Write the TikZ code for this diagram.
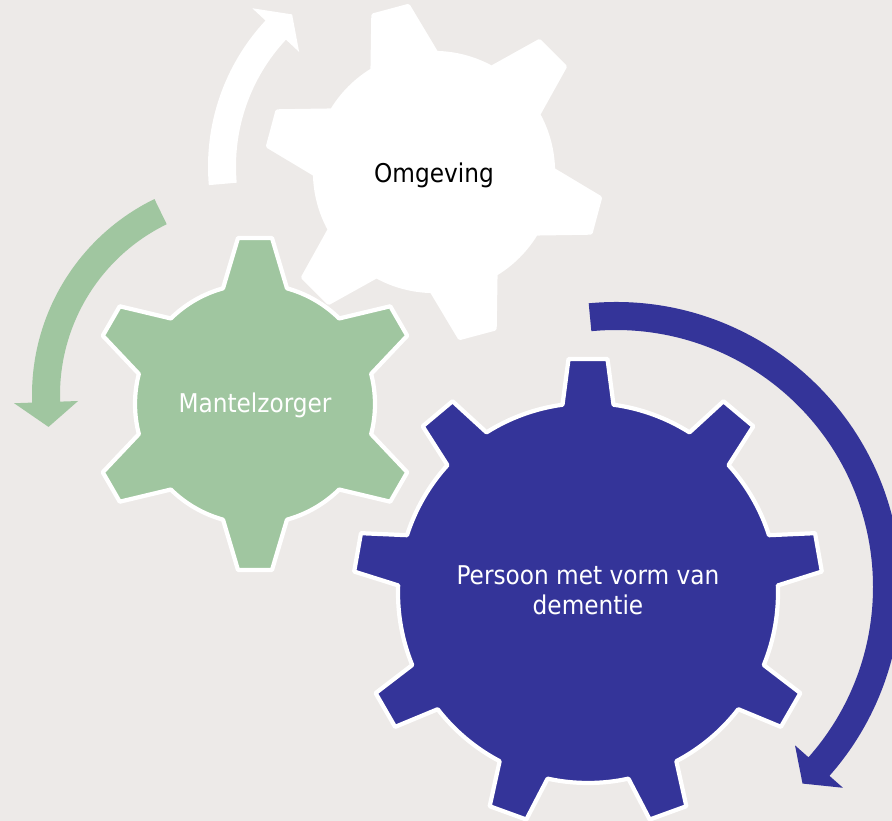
\documentclass[tikz,border=0pt]{standalone}
\usepackage{fontspec}
\setmainfont{DejaVu Sans Condensed}
\usetikzlibrary{calc}
\definecolor{achtergrond}{RGB}{237,234,232}
\definecolor{zorggroen}{RGB}{160,198,160}
\definecolor{dementieblauw}{RGB}{52,52,153}
\tikzset{gearline/.style={draw=white, line width=2.4pt, line join=round},
  geartext/.style={font=\fontsize{14.7}{17}\selectfont, align=center}}
% #1 centre, #2 teeth, #3 first tooth angle, #4 root radius, #5 tip radius,
% #6 half width at root, #7 half width at tip, #8 style
\newcommand{\gear}[8]{%
  \pgfmathsetmacro{\gstep}{360/#2}%
  \pgfmathtruncatemacro{\glast}{#2-1}%
  \pgfmathsetmacro{\gdb}{asin(#6/#4)}%
  \pgfmathsetmacro{\gdt}{atan(#7/#5)}%
  \pgfmathsetmacro{\grt}{veclen(#5,#7)}%
  \path[#8] ($(#1)+(#3-\gdb:#4)$)
    \foreach \k [evaluate=\k as \ta using #3+\k*\gstep] in {0,...,\glast} {
      -- ($(#1)+(\ta-\gdt:\grt)$) -- ($(#1)+(\ta+\gdt:\grt)$) -- ($(#1)+(\ta+\gdb:#4)$)
      arc[start angle=\ta+\gdb, end angle=\ta+\gstep-\gdb, radius=#4]
    } -- cycle;}
% #1 centre, #2 inner radius, #3 outer radius, #4 tail angle, #5 head angle, #6 tip angle, #7 colour
\newcommand{\turnarrow}[7]{%
  \pgfmathsetmacro{\amid}{(#2+#3)/2}%
  \pgfmathsetmacro{\aout}{\amid+32}%
  \pgfmathsetmacro{\ain}{\amid-32}%
  \fill[#7] ($(#1)+(#4:#3)$) arc[start angle=#4, end angle=#5, radius=#3]
    -- ($(#1)+(#5:\aout)$) -- ($(#1)+(#6:\amid)$) -- ($(#1)+(#5:\ain)$)
    -- ($(#1)+(#5:#2)$) arc[start angle=#5, end angle=#4, radius=#2] -- cycle;}

\begin{document}
\begin{tikzpicture}[x=0.02cm,y=0.02cm]
\fill[achtergrond] (0,0) rectangle (892,821);
\clip (0,0) rectangle (892,821);
\coordinate (wc) at (434,649);
\coordinate (gc) at (255,417);
\coordinate (bc) at (588,228);
\coordinate (wa) at (422,654.5);
\coordinate (ga) at (250,426);
\coordinate (ba) at (616,234);
% arrows
\turnarrow{wa}{186}{214}{185}{137}{130.5}{white}
\turnarrow{ga}{190}{218}{116}{182}{189}{zorggroen}
\turnarrow{ba}{257}{285}{95.5}{-41.5}{-46.5}{dementieblauw}
% gears
\gear{wc}{6}{105}{119}{167}{33}{18}{fill=white, gearline}
\gear{gc}{6}{90}{120}{166}{32}{17}{fill=zorggroen, gearline}
\gear{bc}{9}{90}{190}{234}{25.5}{19.5}{fill=dementieblauw, gearline}
\node[geartext, text=black] (omgeving) at (434,646) {Omgeving};
\node[geartext, text=white] (mantelzorger) at (255,415.5) {Mantelzorger};
\node[geartext, text=white] (persoon) at (588,231) {Persoon met vorm van\\dementie};
\end{tikzpicture}
\end{document}
